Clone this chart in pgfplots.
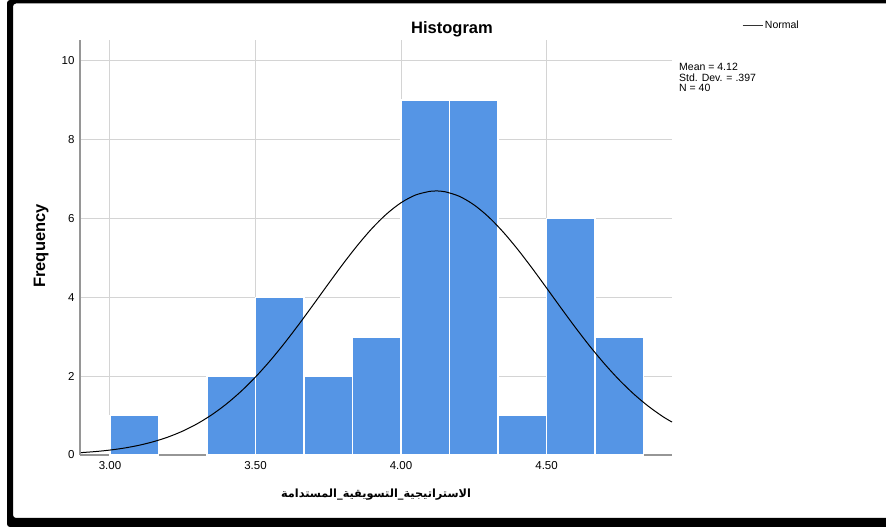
\documentclass[border=0pt]{standalone}
\usepackage{fontspec}
\setmainfont{Liberation Sans}
\newfontfamily\arabicfont[Script=Arabic]{DejaVu Sans}
\TeXXeTstate=1
\usepackage{pgfplots}
\pgfplotsset{compat=1.18}
\definecolor{barblue}{RGB}{85,149,229}
\definecolor{gridgray}{RGB}{212,212,212}
\definecolor{axisgray}{RGB}{150,150,150}

\begin{document}
\begin{tikzpicture}[x=1pt,y=1pt]
\useasboundingbox (0,0) rectangle (886,529);
% screenshot frame
\fill[black, even odd rule, rounded corners=3pt]
  (7,2) rectangle (900,529)
  (13,11) rectangle (895,525.5);

\begin{axis}[
  at={(80pt,74pt)}, anchor=south west,
  scale only axis,
  width=592pt, height=415pt,
  xmin=2.897, xmax=4.931,
  ymin=0, ymax=10.53,
  clip=false,
  axis x line*=bottom,
  axis y line*=left,
  axis line style={draw=axisgray, line width=1.2pt},
  grid=major,
  grid style={draw=gridgray, line width=1pt},
  xtick={3,3.5,4,4.5},
  xticklabels={3.00,3.50,4.00,4.50},
  ytick={0,2,4,6,8,10},
  major tick length=0pt,
  tick label style={font=\fontsize{11.5}{13}\selectfont},
  /pgf/number format/assume math mode=true,
  xticklabel style={yshift=-3pt},
  yticklabel style={xshift=-2pt},
  legend style={at={(axis description cs:1.118,1.034)}, anchor=west,
    draw=none, fill=none, font=\fontsize{10.5}{12}\selectfont, inner sep=0pt},
  legend image code/.code={\draw[black!80, line width=0.9pt] (0pt,0pt) -- (20pt,0pt);},
]
% histogram bars (bin width 1/6)
\addplot[ybar interval, fill=barblue, draw=white, line width=1.6pt, forget plot]
  coordinates {(3.0000,1) (3.1667,0)};
\addplot[ybar interval, fill=barblue, draw=white, line width=1.6pt, forget plot]
  coordinates {
  (3.3333,2) (3.5000,4) (3.6667,2) (3.8333,3) (4.0000,9)
  (4.1667,9) (4.3333,1) (4.5000,6) (4.6667,3) (4.8333,0)
};
% normal curve, mean 4.12, sd .397
\addplot[black, line width=1pt, smooth] coordinates {
  (2.90,0.060) (2.95,0.087) (3.00,0.125) (3.05,0.177) (3.10,0.247)
  (3.15,0.339) (3.20,0.457) (3.25,0.607) (3.30,0.794) (3.35,1.022)
  (3.40,1.294) (3.45,1.613) (3.50,1.979) (3.55,2.390) (3.60,2.842)
  (3.65,3.325) (3.70,3.829) (3.75,4.340) (3.80,4.842) (3.85,5.316)
  (3.90,5.747) (3.95,6.113) (4.00,6.401) (4.05,6.597) (4.10,6.691)
  (4.12,6.700) (4.15,6.681) (4.20,6.565) (4.25,6.350) (4.30,6.046)
  (4.35,5.665) (4.40,5.225) (4.45,4.743) (4.50,4.238) (4.55,3.727)
  (4.60,3.226) (4.65,2.748) (4.70,2.305) (4.75,1.902) (4.80,1.545)
  (4.85,1.235) (4.90,0.972) (4.931,0.836)
};
\addlegendentry{Normal}
\node[anchor=north west, align=left, inner sep=0pt,
  font=\fontsize{10.5}{10.5}\selectfont]
  at (axis description cs:1.0118,0.9446)
  {Mean = 4.12\\Std. Dev. = .397\\N = 40};
\end{axis}

\node[anchor=base, font=\bfseries\fontsize{16.5}{18}\selectfont] at (452,495.5) {Histogram};
\node[anchor=base, rotate=90, font=\bfseries\fontsize{16.5}{18}\selectfont] at (45,283) {Frequency};
\node[anchor=base, font=\arabicfont\bfseries\fontsize{11.3}{13}\selectfont] at (376,31)
  {\beginR الاستراتيجية\_التسويقية\_المستدامة\endR};
\end{tikzpicture}
\end{document}
